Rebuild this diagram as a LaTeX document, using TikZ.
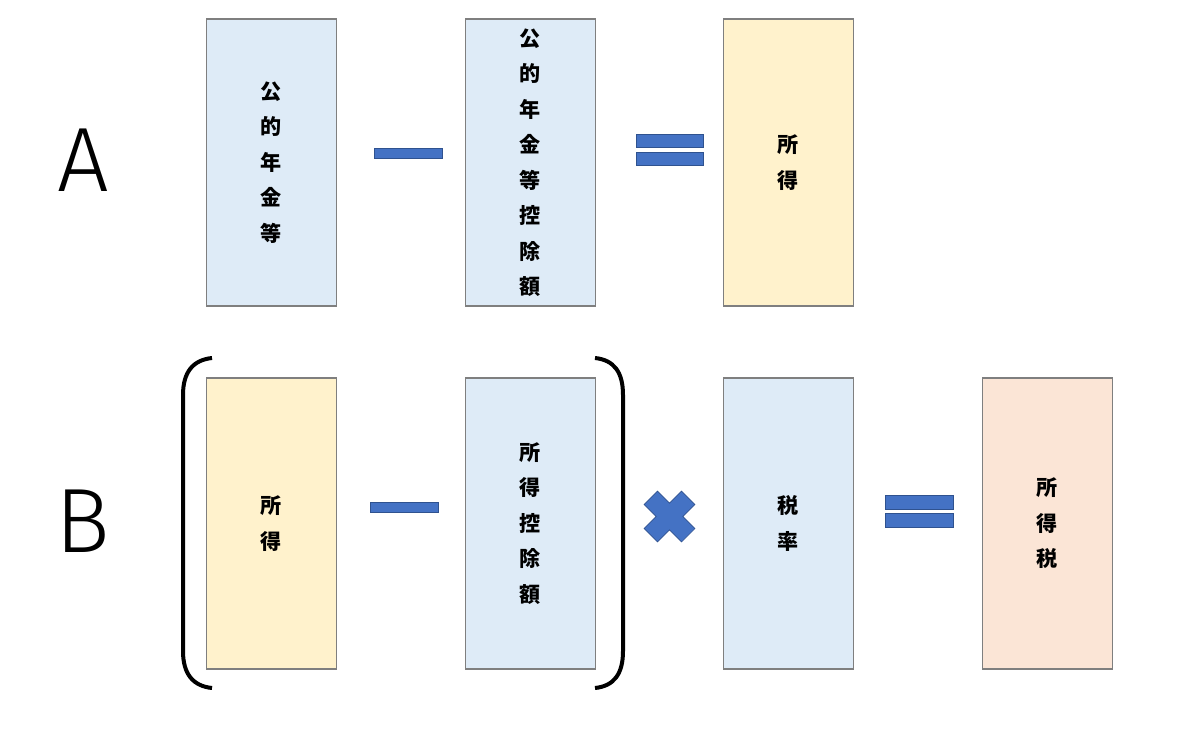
\documentclass[tikz,border=0pt]{standalone}
\usepackage{fontspec}
\newfontfamily\jpfont{Noto Sans CJK JP}
\newfontfamily\labelfont{Fira Sans Light}
\usepackage{tikz}
\usetikzlibrary{positioning}
\definecolor{termblue}{HTML}{DEEBF7}
\definecolor{termyellow}{HTML}{FFF2CC}
\definecolor{termpink}{HTML}{FBE5D6}
\definecolor{opblue}{HTML}{4472C4}
\definecolor{opedge}{HTML}{2F528F}
\definecolor{termedge}{HTML}{7F7F7F}
\tikzset{
  termbox/.style={rectangle, draw=termedge, line width=0.8pt, fill=#1,
                  minimum width=2.6cm, inner sep=0pt, align=center,
                  font=\jpfont\bfseries\fontsize{12}{20.2}\selectfont},
  rowA/.style={minimum height=5.74cm},
  rowB/.style={minimum height=5.82cm},
  opbar/.style={rectangle, draw=opedge, line width=0.4pt, fill=opblue,
                inner sep=0pt, minimum width=1.36cm, minimum height=#1},
  rowlabel/.style={font=\labelfont\fontsize{52}{52}\selectfont},
  paren/.style={line width=0.08cm, black},
}

\begin{document}
\begin{tikzpicture}[x=0.02cm, y=-0.02cm]
  \useasboundingbox (0,0) rectangle (1200,745);
  % Row labels
  \node[rowlabel] (labA) at (83,160) {A};
  \node[rowlabel] (labB) at (83,521) {B};
  % Row A: pension - deduction = income
  \node[termbox=termblue, rowA] (pension) at (271.5,162.5) {公\\的\\年\\金\\等};
  \node[termbox=termblue, rowA] (pensionded) at (530.5,162.5) {公\\的\\年\\金\\等\\控\\除\\額};
  \node[termbox=termyellow, rowA] (incomeA) at (788.5,162.5) {所\\得};
  \node[opbar=0.2cm] (minusA) at (408,153) {};
  \node[opbar=0.26cm, minimum width=1.34cm] (eqAtop) at (669.5,140.5) {};
  \node[opbar=0.26cm, minimum width=1.34cm] (eqAbot) at (669.5,159) {};
  % Row B: (income - deduction) x rate = tax
  \node[termbox=termyellow, rowB] (incomeB) at (271.5,523.5) {所\\得};
  \node[termbox=termblue, rowB] (incomeded) at (530.5,523.5) {所\\得\\控\\除\\額};
  \node[termbox=termblue, rowB] (taxrate) at (788.5,523.5) {税\\率};
  \node[termbox=termpink, rowB] (incometax) at (1047.5,523.5) {所\\得\\税};
  \node[opbar=0.2cm] (minusB) at (404.5,507) {};
  \node[opbar=0.28cm] (eqBtop) at (919,502) {};
  \node[opbar=0.28cm] (eqBbot) at (919,520.5) {};
  % Times sign
  \begin{scope}[shift={(669.5,516.5)}, rotate=45]
    \filldraw[fill=opblue, draw=opedge, line width=0.4pt]
      (-9.5,-26.5)--(9.5,-26.5)--(9.5,-9.5)--(26.5,-9.5)--(26.5,9.5)--(9.5,9.5)--
      (9.5,26.5)--(-9.5,26.5)--(-9.5,9.5)--(-26.5,9.5)--(-26.5,-9.5)--(-9.5,-9.5)--cycle;
  \end{scope}
  % Brackets
  \draw[paren] (212,358) .. controls (193,360) and (183,372) .. (183,395) -- (183,651)
    .. controls (183,674) and (193,686) .. (212,688);
  \draw[paren] (595,358) .. controls (614,360) and (623,372) .. (623,395) -- (623,651)
    .. controls (623,674) and (614,686) .. (595,688);
\end{tikzpicture}
\end{document}
